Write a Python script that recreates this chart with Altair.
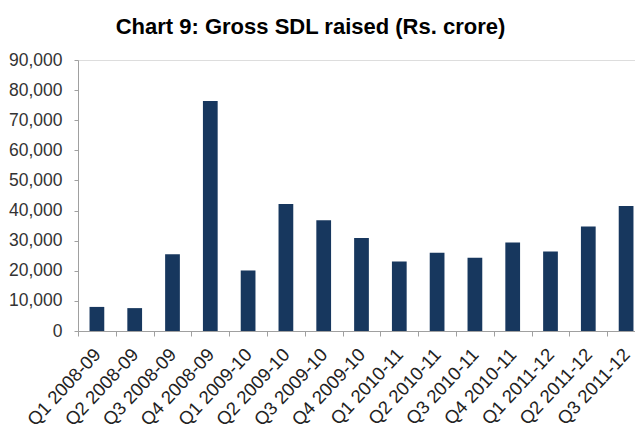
import altair as alt
import pandas as pd

quarters = ["Q1 2008-09", "Q2 2008-09", "Q3 2008-09", "Q4 2008-09",
            "Q1 2009-10", "Q2 2009-10", "Q3 2009-10", "Q4 2009-10",
            "Q1 2010-11", "Q2 2010-11", "Q3 2010-11", "Q4 2010-11",
            "Q1 2011-12", "Q2 2011-12", "Q3 2011-12"]
values = [8000, 7600, 25500, 76400, 20100, 42200, 36800, 30900,
          23100, 26000, 24300, 29400, 26400, 34700, 41500]
y_ticks = [0, 10000, 20000, 30000, 40000, 50000, 60000, 70000, 80000, 90000]

df = pd.DataFrame({"quarter": quarters, "value": values})

FONT = "Liberation Sans"

chart = alt.Chart(df).mark_bar(
    color="#17375E", width=alt.RelativeBandSize(0.39)
).encode(
    x=alt.X("quarter:N", sort=quarters, title=None,
            scale=alt.Scale(paddingInner=0, paddingOuter=0, range=[0, 567]),
            axis=alt.Axis(labelAngle=-47, labelAlign="right", labelBaseline="middle",
                          labelPadding=15, tickBand="extent", tickSize=5,
                          domainColor="#a0a0a0", tickColor="#a0a0a0",
                          labelFont=FONT, labelFontSize=18.5, labelColor="#222222",
                          labelOverlap=False, labelBound=False, labelFlush=False)),
    y=alt.Y("value:Q", title=None,
            scale=alt.Scale(domain=[0, 90000], nice=False),
            axis=alt.Axis(values=y_ticks, format=",.0f", grid=False, tickSize=4,
                          domainColor="#a0a0a0", tickColor="#a0a0a0",
                          labelPadding=12, labelFont=FONT, labelFontSize=17.5,
                          labelColor="#333333")),
).properties(
    width=557, height=271,
    autosize=alt.AutoSizeParams(type="none"),
    padding={"left": 78, "top": 60, "right": 0, "bottom": 104},
    title=alt.TitleParams("Chart 9: Gross SDL raised (Rs. crore)", font=FONT,
                          fontSize=22, fontWeight="bold", color="#000000",
                          anchor="middle", dx=-46, offset=12),
).configure_view(stroke=None).configure(background="white")

chart.save("out.html", embed_options={"renderer": "svg", "actions": False})
